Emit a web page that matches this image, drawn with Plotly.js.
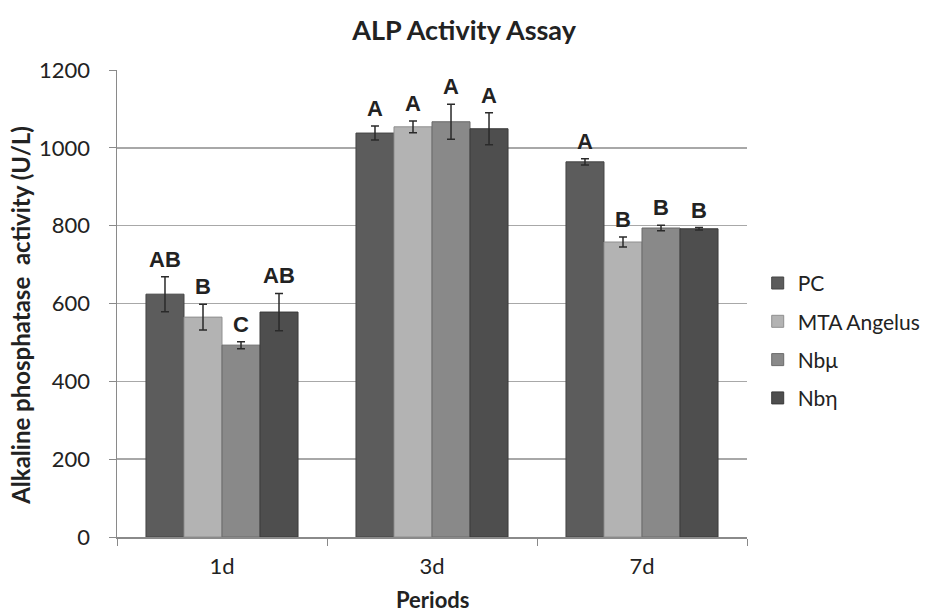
<!DOCTYPE html>
<html>
<head>
<meta charset="utf-8">
<script src="https://cdn.plot.ly/plotly-3.0.1.min.js"></script>
<style>html,body{margin:0;padding:0;background:#fff;}#chart{width:932px;height:615px;}</style>
</head>
<body>
<div id="chart"></div>
<script>
const periods = ["1d", "3d", "7d"];
const seriesNames = ["PC", "MTA Angelus", "Nbμ", "Nbη"];
const pcValues = [624, 1038, 964];
const mtaValues = [565, 1054, 758];
const nbmuValues = [493, 1067, 794];
const nbetaValues = [578, 1049, 792];
const pcErrors = [45, 18, 8];
const mtaErrors = [33, 15, 13];
const nbmuErrors = [9, 45, 7];
const nbetaErrors = [48, 41, 3];
const pcLetters = ["AB", "A", "A"];
const mtaLetters = ["B", "A", "B"];
const nbmuLetters = ["C", "A", "B"];
const nbetaLetters = ["AB", "A", "B"];
const yTitle = "Alkaline phosphatase  activity (U/L)";
const xTitle = "Periods";

const values = [pcValues, mtaValues, nbmuValues, nbetaValues];
const errors = [pcErrors, mtaErrors, nbmuErrors, nbetaErrors];
const letters = [pcLetters, mtaLetters, nbmuLetters, nbetaLetters];
const colors = ["#5c5c5c", "#b3b3b3", "#898989", "#4e4e4e"];
const edge = ["#454545", "#8f8f8f", "#6a6a6a", "#3a3a3a"];
const bargap = 0.276;
const nSeries = seriesNames.length;
const barW = (1 - bargap) / nSeries;

const traces = seriesNames.map((name, i) => ({
  type: "bar",
  name: name,
  legendgroup: "g" + i,
  x: periods,
  y: values[i],
  marker: { color: colors[i], line: { color: edge[i], width: 1 } },
  error_y: { type: "data", array: errors[i], visible: true, color: "#2a2a2a", thickness: 1.5, width: 4 },
  hoverinfo: "x+y+name"
}));

const annotations = [];
seriesNames.forEach((name, i) => {
  periods.forEach((p, j) => {
    annotations.push({
      x: j + (i - (nSeries - 1) / 2) * barW,
      y: values[i][j] + errors[i][j],
      xref: "x", yref: "y",
      text: letters[i][j],
      showarrow: false,
      yanchor: "bottom",
      yshift: 3,
      font: { family: "Liberation Sans, Arial, sans-serif", size: 22, color: "#222", weight: "bold" }
    });
  });
});
annotations.push({
  xref: "paper", yref: "paper", x: -0.153, y: 0.475,
  xanchor: "center", yanchor: "middle", textangle: -90,
  text: "<b>" + yTitle + "</b>", showarrow: false,
  font: { family: "Lato, sans-serif", size: 24, color: "#222" }
});
annotations.push({
  xref: "paper", yref: "paper", x: 0.5, y: -0.134,
  xanchor: "center", yanchor: "middle",
  text: "<b>" + xTitle + "</b>", showarrow: false,
  font: { family: "Lato, sans-serif", size: 22, color: "#222" }
});

const layout = {
  width: 932, height: 615,
  paper_bgcolor: "#ffffff", plot_bgcolor: "#ffffff",
  margin: { l: 117, r: 185, t: 70, b: 78 },
  barmode: "group",
  bargap: bargap,
  bargroupgap: 0,
  font: { family: "Lato, 'Open Sans', sans-serif", color: "#222" },
  title: {
    text: "<b>ALP Activity Assay</b>",
    x: 0.498, xref: "container", xanchor: "center",
    y: 0.95, yref: "container", yanchor: "middle",
    font: { family: "Lato, sans-serif", size: 27, color: "#222" }
  },
  xaxis: {
    type: "category",
    tickson: "boundaries",
    ticks: "outside", ticklen: 7, tickcolor: "#8a8a8a", tickwidth: 1,
    showline: true, linecolor: "#8a8a8a", linewidth: 1.5,
    showgrid: false,
    automargin: false,
    ticklabelstandoff: 9,
    tickfont: { family: "Lato, sans-serif", size: 22, color: "#222" }
  },
  yaxis: {
    range: [0, 1200],
    tick0: 0, dtick: 200,
    ticks: "outside", ticklen: 7, tickcolor: "#8a8a8a", tickwidth: 1,
    showline: true, linecolor: "#8a8a8a", linewidth: 1.5,
    showgrid: true, gridcolor: "#a8a8a8", gridwidth: 1.5,
    zeroline: false,
    automargin: false,
    tickfont: { family: "Lato, sans-serif", size: 22, color: "#222" },
    ticklabelstandoff: 14
  },
  legend: {
    xref: "container", yref: "paper",
    x: 0.813, xanchor: "left",
    y: 0.42, yanchor: "middle",
    traceorder: "grouped",
    tracegroupgap: 8,
    itemwidth: 30,
    font: { family: "Lato, sans-serif", size: 21, color: "#222" },
    bgcolor: "rgba(0,0,0,0)"
  },
  annotations: annotations,
  showlegend: true
};

Plotly.newPlot("chart", traces, layout, { displayModeBar: false, staticPlot: true });
</script>
</body>
</html>
